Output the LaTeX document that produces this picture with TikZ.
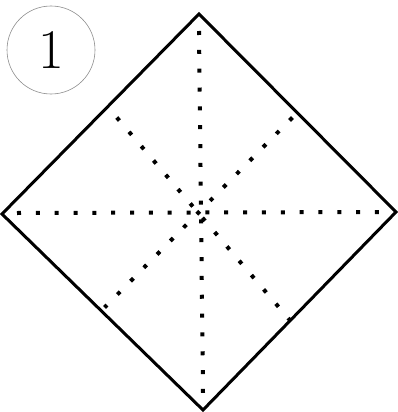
\documentclass[tikz,border=0pt]{standalone}
\usepackage{tikz}

\begin{document}
\begin{tikzpicture}[
		x=1pt, y=-1pt,
		edge/.style={
			line width=3pt,
			line join=miter
		},
		fold/.style={
			line width=4pt,
			line cap=butt,
			dash pattern=on 4pt off 14.84pt
		},
		badge/.style={
			circle,
			draw=black!45,
			line width=0.6pt,
			minimum size=88pt,
			inner sep=0pt,
			font=\fontsize{56}{60}\selectfont
		}
		]
		\useasboundingbox (0,0) rectangle (398,412);
		
		% Corners of the square
		\coordinate (top) at (199,14);
		\coordinate (right) at (396,212);
		\coordinate (bottom) at (203,410);
		\coordinate (left) at (2,214);
		
		% Ends of the fold lines
		\coordinate (vtop) at (199,31);
		\coordinate (vbot) at (203,393);
		\coordinate (hleft) at (17,213);
		\coordinate (hright) at (379,212);
		\coordinate (daup) at (116.8,117.5);
		\coordinate (dadown) at (290.2,320.5);
		\coordinate (dbup) at (292.4,117.6);
		\coordinate (dbdown) at (104.6,307.4);
		
		% Step number
		\node[badge] (step) at (51,50) {1};
		
		% Square
		\draw[edge] (top) -- (right) -- (bottom) -- (left) -- cycle;
		
		% Fold lines
		\draw[fold] (vtop) -- (vbot);
		\draw[fold] (hleft) -- (hright);
		\draw[fold] (daup) -- (dadown);
		\draw[fold] (dbup) -- (dbdown);
	\end{tikzpicture}
\end{document}
